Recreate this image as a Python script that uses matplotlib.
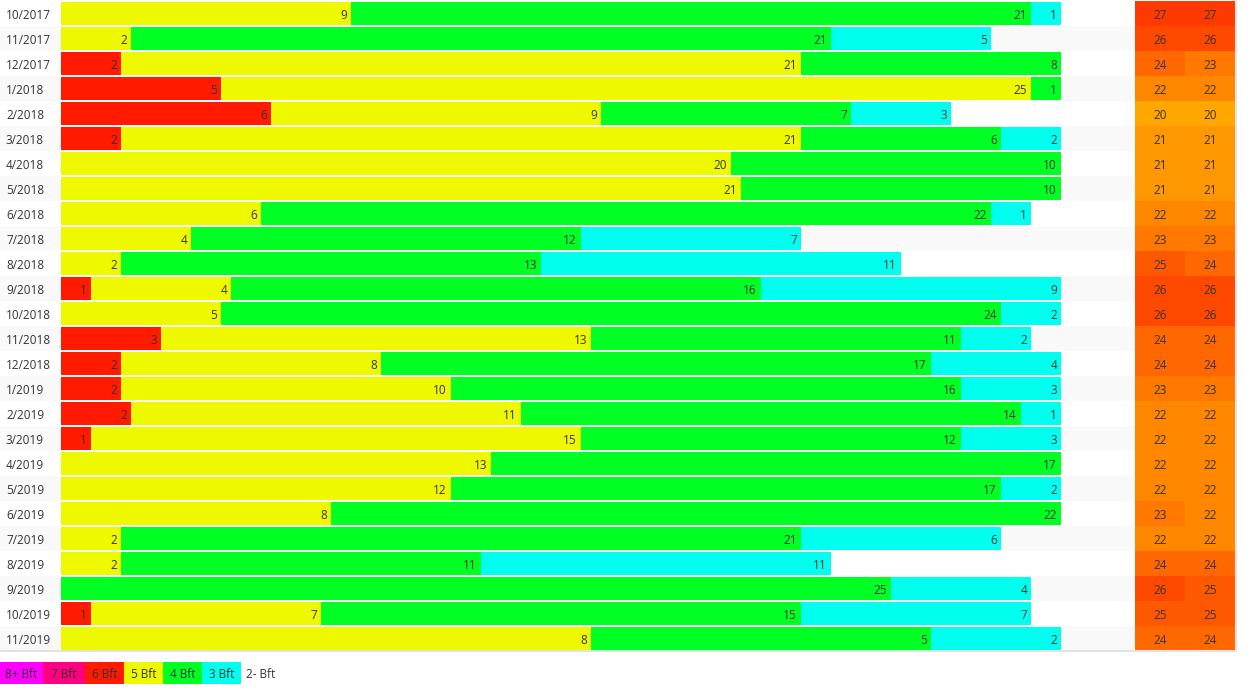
import matplotlib.pyplot as plt
import numpy as np
from matplotlib.colors import LinearSegmentedColormap, Normalize

plt.rcParams['font.family'] = ['Open Sans', 'DejaVu Sans']

# monthly wind statistics: days per Beaufort class, days observed, temperatures
months = ['10/2017', '11/2017', '12/2017', '1/2018', '2/2018', '3/2018', '4/2018',
          '5/2018', '6/2018', '7/2018', '8/2018', '9/2018', '10/2018', '11/2018',
          '12/2018', '1/2019', '2/2019', '3/2019', '4/2019', '5/2019', '6/2019',
          '7/2019', '8/2019', '9/2019', '10/2019', '11/2019']
days = [31, 30, 31, 31, 28, 31, 30, 31, 30, 31, 31, 30, 31, 30, 31, 31, 28, 31, 30,
        31, 30, 31, 31, 30, 31, 15]
bft8 = [0] * 26
bft7 = [0] * 26
bft6 = [0, 0, 2, 5, 6, 2, 0, 0, 0, 0, 0, 1, 0, 3, 2, 2, 2, 1, 0, 0, 0, 0, 0, 0, 1, 0]
bft5 = [9, 2, 21, 25, 9, 21, 20, 21, 6, 4, 2, 4, 5, 13, 8, 10, 11, 15, 13, 12, 8, 2, 2, 0, 7, 8]
bft4 = [21, 21, 8, 1, 7, 6, 10, 10, 22, 12, 13, 16, 24, 11, 17, 16, 14, 12, 17, 17, 22, 21, 11, 25, 15, 5]
bft3 = [1, 5, 0, 0, 3, 2, 0, 0, 1, 7, 11, 9, 2, 2, 4, 3, 1, 3, 0, 2, 0, 6, 11, 4, 7, 2]
temp_a = [27, 26, 24, 22, 20, 21, 21, 21, 22, 23, 25, 26, 26, 24, 24, 23, 22, 22, 22, 22,
          23, 22, 24, 26, 25, 24]
temp_b = [27, 26, 23, 22, 20, 21, 21, 21, 22, 23, 24, 26, 26, 24, 24, 23, 22, 22, 22, 22,
          22, 22, 24, 25, 25, 24]
legend_labels = ['8+ Bft', '7 Bft', '6 Bft', '5 Bft', '4 Bft', '3 Bft', '2- Bft']

colors = ['#ff00ff', '#ff0080', '#ff1a00', '#eef900', '#00ff22', '#00ffee']
txt = '#333333'
fs = 8.5
dy = 0.07  # nudge text down to sit on the row centre

fig = plt.figure(figsize=(12.57, 6.92), dpi=100)
ax = fig.add_axes([0, 0, 1, 1])
# 1 x unit = 10 px (1 percent of a month), 1 y unit = one table row
ax.set_xlim(-6.1, 119.6)
ax.set_ylim(27.64, -0.04)
ax.axis('off')

n = len(months)
y = np.arange(n) + 0.5

# zebra rows
for i in range(1, n, 2):
    ax.barh(y[i], 123.6, left=-6.1, height=1.0, color='#f9f9f9', linewidth=0)

# stacked bars, widths are rounded cumulative percentages of the month
counts = np.array([bft8, bft7, bft6, bft5, bft4, bft3]).T
cum = np.cumsum(counts, axis=1)
pos = np.floor(100 * cum / np.array(days)[:, None] + 0.5)
prev = np.zeros(n)
for j in range(counts.shape[1]):
    ax.barh(y, pos[:, j] - prev, left=prev, height=0.92, color=colors[j], linewidth=0)
    for i in range(n):
        if counts[i, j] > 0:
            ax.text(pos[i, j] - 0.4, y[i] + dy, str(counts[i, j]), ha='right', va='center',
                    fontsize=fs, color=txt)
    prev = pos[:, j]

for i in range(n):
    ax.text(-5.5, y[i] + dy, months[i], ha='left', va='center', fontsize=fs, color=txt)

# temperature columns
cmap = LinearSegmentedColormap.from_list('temp', ['#ffa600', '#ff3a00'])
norm = Normalize(20, 27)
ax.barh(y, 5.0, left=107.4, height=1.0, color=cmap(norm(temp_a)), linewidth=0)
ax.barh(y, 5.1, left=112.4, height=1.0, color=cmap(norm(temp_b)), linewidth=0)
for i in range(n):
    ax.text(109.9, y[i] + dy, str(temp_a[i]), ha='center', va='center', fontsize=fs, color=txt)
    ax.text(114.95, y[i] + dy, str(temp_b[i]), ha='center', va='center', fontsize=fs, color=txt)

# table border
ax.plot([-6.1, 117.5, 117.5], [n, n, 0], color='#e3e3e3', linewidth=1.5)

# legend
edges = [-6.1, -1.8, 2.4, 6.3, 10.2, 14.1, 18.0]
for k in range(6):
    ax.barh(26.88, edges[k + 1] - edges[k], left=edges[k], height=0.88,
            color=colors[k], linewidth=0)
    ax.text((edges[k] + edges[k + 1]) / 2, 26.88 + dy, legend_labels[k], ha='center',
            va='center', fontsize=fs, color=txt)
ax.text(18.5, 26.88 + dy, legend_labels[6], ha='left', va='center', fontsize=fs, color=txt)

fig.savefig('out.png', dpi=100)
